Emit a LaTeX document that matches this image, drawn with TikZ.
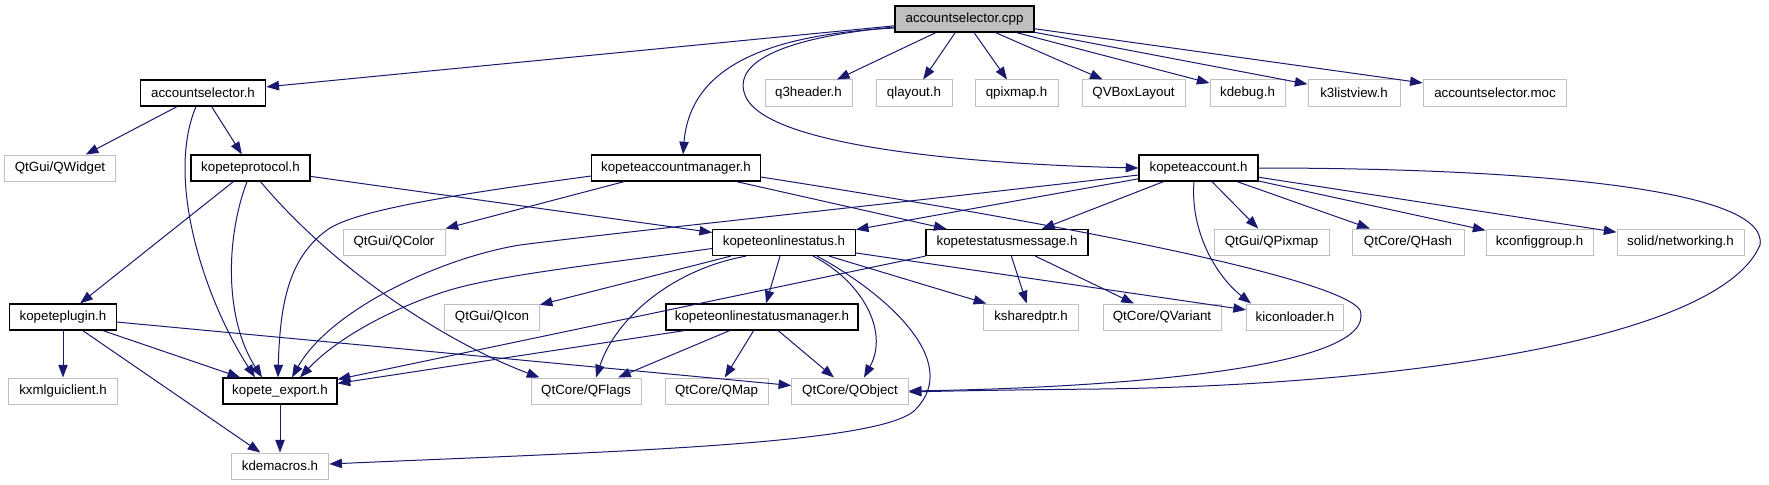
\documentclass[tikz,border=0pt]{standalone}
\usepackage{fontspec}
\setmainfont{Liberation Sans}
\usetikzlibrary{arrows.meta,calc}
\definecolor{edgec}{HTML}{191970}
\definecolor{grayb}{HTML}{BFBFBF}
\tikzset{
 box/.style={draw=black, line width=0.9pt, rectangle, inner sep=0pt, minimum height=19.5pt, fill=white, font=\fontsize{10pt}{12pt}\selectfont, text=black},
 ext/.style={box, draw=grayb, line width=0.75pt},
 wd/.style={minimum width=#1*0.75pt},
 e/.style={draw=edgec, line width=0.75pt, -{Triangle[length=9.5pt,width=7pt]}}
}
\begin{document}
\begin{tikzpicture}[x=0.75pt,y=-0.75pt]
\useasboundingbox (0,0) rectangle (1769,485);
\fill[white] (0,0) rectangle (1769,485);
% row 0
\node[box, fill=grayb, wd=139] (cpp) at (964.5,19) {accountselector.cpp};
% row 1
\node[box, wd=125.5] (ash) at (203,93) {accountselector.h};
\node[ext, wd=87] (q3h) at (808.5,93) {q3header.h};
\node[ext, wd=76] (qlay) at (914,93) {qlayout.h};
\node[ext, wd=83] (qpix) at (1016.5,93) {qpixmap.h};
\node[ext, wd=103] (qvbox) at (1133.5,93) {QVBoxLayout};
\node[ext, wd=75] (kdbg) at (1247.5,93) {kdebug.h};
\node[ext, wd=92] (k3lv) at (1354,93) {k3listview.h};
\node[ext, wd=143.5] (moc) at (1495,93) {accountselector.moc};
% row 2
\node[ext, wd=111] (qwid) at (60,168) {QtGui/QWidget};
\node[box, wd=119] (kprot) at (250.5,168) {kopeteprotocol.h};
\node[box, wd=168.5] (kam) at (676,168) {kopeteaccountmanager.h};
\node[box, wd=119] (kacc) at (1198.5,168) {kopeteaccount.h};
% row 3
\node[ext, wd=102] (qcolor) at (394,242) {QtGui/QColor};
\node[box, wd=142.5] (kos) at (784,242.5) {kopeteonlinestatus.h};
\node[box, wd=162] (ksm) at (1007,242.5) {kopetestatusmessage.h};
\node[ext, wd=115] (qpixm) at (1271.5,242) {QtGui/QPixmap};
\node[ext, wd=112] (qhash) at (1408,242) {QtCore/QHash};
\node[ext, wd=107] (kcg) at (1539.5,242) {kconfiggroup.h};
\node[ext, wd=127] (solid) at (1680.5,242) {solid/networking.h};
% row 4
\node[box, wd=106.5] (kplug) at (63,317) {kopeteplugin.h};
\node[ext, wd=94.5] (qicon) at (492,317) {QtGui/QIcon};
\node[box, wd=192] (kosm) at (762,317) {kopeteonlinestatusmanager.h};
\node[ext, wd=95] (kshp) at (1031,317) {ksharedptr.h};
\node[ext, wd=118] (qvar) at (1162,317) {QtCore/QVariant};
\node[ext, wd=97] (kicon) at (1295,317) {kiconloader.h};
% row 5
\node[ext, wd=109.5] (kxml) at (63,391) {kxmlguiclient.h};
\node[box, wd=114] (kexp) at (280,391) {kopete\_export.h};
\node[ext, wd=110] (qflags) at (586,391) {QtCore/QFlags};
\node[ext, wd=103] (qmap) at (716.5,391) {QtCore/QMap};
\node[ext, wd=116.5] (qobj) at (850,391) {QtCore/QObject};
% row 6
\node[ext, wd=97.5] (kdem) at (280,466) {kdemacros.h};

% edges from cpp
\draw[e] (cpp) -- (ash);
\draw[e] ($(cpp.west)+(0,9)$) .. controls (760,35) and (690,70) .. ($(kam.north)+(7,0)$);
\draw[e] ($(cpp.west)+(0,8)$) .. controls (760,40) and (735,70) .. (745,95) .. controls (765,150) and (1000,165) .. (kacc.west);
\draw[e] (cpp) -- (q3h);
\draw[e] (cpp) -- (qlay);
\draw[e] (cpp) -- (qpix);
\draw[e] (cpp) -- (qvbox);
\draw[e] (cpp) -- (kdbg);
\draw[e] (cpp) -- (k3lv);
\draw[e] (cpp) -- (moc);
% accountselector.h
\draw[e] (ash) -- (qwid);
\draw[e] (ash) -- (kprot);
\draw[e] ($(ash.south)+(-7,0)$) .. controls (165,180) and (205,300) .. ($(kexp.north)+(-25,0)$);
% kopeteprotocol.h
\draw[e] (kprot) -- (kos);
\draw[e] (kprot) -- (kplug);
\draw[e] ($(kprot.south)+(-3.5,0)$) .. controls (225,240) and (225,320) .. ($(kexp.north)+(-18,0)$);
\draw[e] ($(kprot.south)+(10,0)$) .. controls (330,265) and (440,340) .. ($(qflags.north west)+(9,0)$);
% kopeteaccountmanager.h
\draw[e] (kam) -- (qcolor);
\draw[e] (kam) -- (ksm);
\draw[e] ($(kam.west)+(0,8)$) .. controls (450,195) and (360,210) .. (330,228) .. controls (290,255) and (280,300) .. ($(kexp.north)+(-2,0)$);
\draw[e] ($(kam.east)+(0,9)$) .. controls (1100,230) and (1340,280) .. (1360,310) .. controls (1380,370) and (1100,388) .. (qobj.east);
% kopeteaccount.h
\draw[e] (kacc) -- (kos);
\draw[e] (kacc) -- (ksm);
\draw[e] (kacc) -- (qpixm);
\draw[e] (kacc) -- (qhash);
\draw[e] (kacc) -- (kcg);
\draw[e] (kacc) -- (solid);
\draw[e] ($(kacc.west)+(0,7)$) .. controls (900,203) and (620,232) .. (520,245) .. controls (440,258) and (330,310) .. ($(kexp.north)+(12,0)$);
\draw[e] ($(kacc.south)+(-4.5,0)$) .. controls (1190,230) and (1215,275) .. ($(kicon.north west)+(5,0)$);
\draw[e] (kacc.east) .. controls (1500,168) and (1770,185) .. (1760,245) .. controls (1720,340) and (1400,385) .. (1100,389) .. controls (1000,390) and (950,391) .. ($(qobj.east)+(0,1)$);
% kopeteonlinestatus.h
\draw[e] ($(kos.west)+(0,6)$) .. controls (600,264) and (500,275) .. (450,290) .. controls (400,305) and (340,335) .. ($(kexp.north)+(20,0)$);
\draw[e] (kos) -- (qicon);
\draw[e] (kos) -- (kosm);
\draw[e] ($(kos.south)+(-38,0)$) .. controls (670,270) and (615,320) .. ($(qflags.north)+(10,0)$);
\draw[e] ($(kos.south)+(29,0)$) .. controls (860,280) and (890,330) .. ($(qobj.north)+(14,0)$);
\draw[e] (kos) -- (kshp);
\draw[e] (kos) -- (kicon);
\draw[e] ($(kos.south)+(33,0)$) .. controls (880,290) and (965,360) .. (915,410) .. controls (880,445) and (600,452) .. ($(kdem.east)+(0,-2)$);
% kopetestatusmessage.h
\draw[e] (ksm.south west) -- ($(kexp.north east)+(0,2)$);
\draw[e] (ksm) -- (kshp);
\draw[e] (ksm) -- (qvar);
% kopeteonlinestatusmanager.h
\draw[e] ($(kosm.south west)+(19,0)$) -- ($(kexp.north east)+(0,6)$);
\draw[e] (kosm) -- (qflags);
\draw[e] (kosm) -- (qmap);
\draw[e] (kosm) -- (qobj);
% kopeteplugin.h
\draw[e] (kplug) -- (kxml);
\draw[e] (kplug) -- (kexp);
\draw[e] (kplug) -- (kdem);
\draw[e] (kplug) -- (qobj);
% kopete_export.h
\draw[e] (kexp) -- (kdem);
\end{tikzpicture}
\end{document}
